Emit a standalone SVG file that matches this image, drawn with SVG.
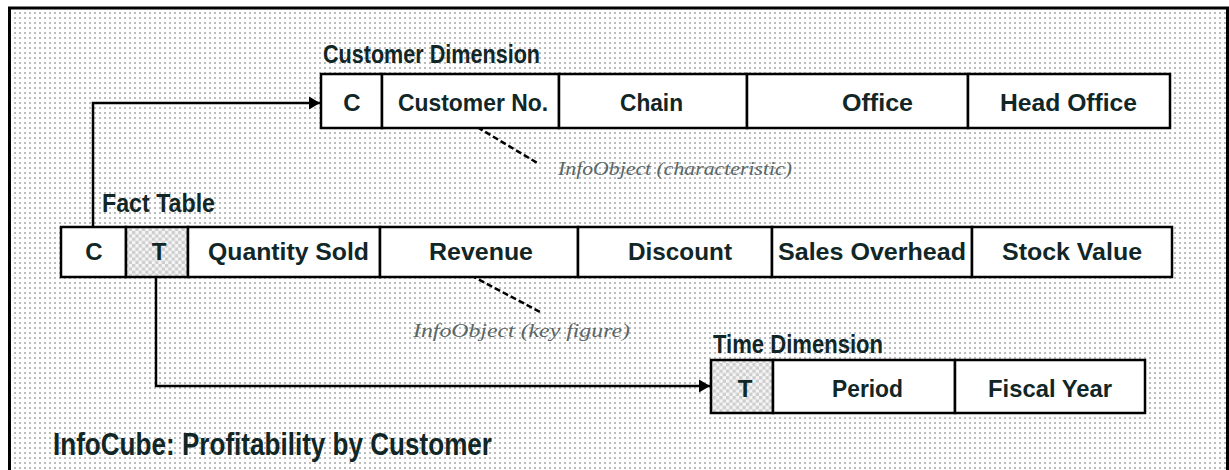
<svg xmlns="http://www.w3.org/2000/svg" width="1229" height="470" viewBox="0 0 1229 470">
  <defs>
    <!-- dotted paper background -->
    <pattern id="dots" x="14" y="12" width="5" height="5" patternUnits="userSpaceOnUse">
      <rect width="5" height="5" fill="#ffffff"/>
      <rect x="0" y="0" width="2" height="2" fill="#bcbcbc"/>
    </pattern>
    <!-- checkered fill for the time key cells -->
    <pattern id="checker" x="0" y="0" width="6.6" height="6.6" patternUnits="userSpaceOnUse">
      <rect width="6.6" height="6.6" fill="#f6f6f6"/>
      <rect x="0" y="0" width="3.3" height="3.3" fill="#cdcdcd"/>
      <rect x="3.3" y="3.3" width="3.3" height="3.3" fill="#cdcdcd"/>
    </pattern>
    <marker id="head" markerUnits="userSpaceOnUse" markerWidth="12" markerHeight="14" refX="11" refY="7" orient="auto">
      <path d="M0,0.5 L11,7 L0,13.5 Z" fill="#000"/>
    </marker>
    <style>
      .cell { fill: #ffffff; stroke: #000; stroke-width: 2.5; }
      .key { fill: url(#checker); stroke: #000; stroke-width: 2.5; }
      .txt { font-family: "Liberation Sans", Arial, sans-serif; font-weight: bold; font-size: 24px; fill: #112626; }
      .title { font-family: "Liberation Sans Narrow", "Liberation Sans", Arial, sans-serif; font-weight: bold; font-size: 26px; fill: #112626; }
      .note { font-family: "Liberation Serif", "Times New Roman", serif; font-style: italic; font-size: 18px; fill: #5a6666; }
      .wire { fill: none; stroke: #000; stroke-width: 2.5; }
      .lead { fill: none; stroke: #000; stroke-width: 2.5; stroke-dasharray: 6 3; }
    </style>
  </defs>

  <!-- background and frame -->
  <rect x="0" y="0" width="1229" height="470" fill="#ffffff"/>
  <rect x="11" y="9" width="1215" height="461" fill="url(#dots)"/>
  <path d="M9.5,470 V8 H1227.5 V470" fill="none" stroke="#000" stroke-width="3"/>

  <!-- connectors -->
  <g id="connectors">
    <path class="wire" d="M93,227 V103 H320" marker-end="url(#head)"/>
    <path class="wire" d="M156,277 V386 H710" marker-end="url(#head)"/>
    <path class="lead" d="M462,118 L539,164"/>
    <path class="lead" d="M455,267 L542,313"/>
  </g>

  <!-- customer dimension table -->
  <g id="customer-dimension">
    <text class="title" x="323" y="63" textLength="217" lengthAdjust="spacingAndGlyphs">Customer Dimension</text>
    <rect class="cell" x="321" y="74" width="61" height="54"/>
    <rect class="cell" x="382" y="74" width="177" height="54"/>
    <rect class="cell" x="559" y="74" width="188" height="54"/>
    <rect class="cell" x="747" y="74" width="221" height="54"/>
    <rect class="cell" x="968" y="74" width="202" height="54"/>
    <text class="txt" x="352" y="111" text-anchor="middle">C</text>
    <text class="txt" x="398" y="111" textLength="150" lengthAdjust="spacingAndGlyphs">Customer No.</text>
    <text class="txt" x="620" y="111" textLength="63" lengthAdjust="spacingAndGlyphs">Chain</text>
    <text class="txt" x="842" y="111" textLength="71" lengthAdjust="spacingAndGlyphs">Office</text>
    <text class="txt" x="1000" y="111" textLength="137" lengthAdjust="spacingAndGlyphs">Head Office</text>
  </g>

  <!-- fact table -->
  <g id="fact-table">
    <text class="title" x="102" y="212" textLength="113" lengthAdjust="spacingAndGlyphs">Fact Table</text>
    <rect class="cell" x="61" y="227" width="65" height="50"/>
    <rect class="key" x="126" y="227" width="62" height="50"/>
    <rect class="cell" x="188" y="227" width="192" height="50"/>
    <rect class="cell" x="380" y="227" width="198" height="50"/>
    <rect class="cell" x="578" y="227" width="194" height="50"/>
    <rect class="cell" x="772" y="227" width="200" height="50"/>
    <rect class="cell" x="972" y="227" width="200" height="50"/>
    <text class="txt" x="94" y="260" text-anchor="middle">C</text>
    <text class="txt" x="159" y="260" text-anchor="middle">T</text>
    <text class="txt" x="208" y="260" textLength="161" lengthAdjust="spacingAndGlyphs">Quantity Sold</text>
    <text class="txt" x="429" y="260" textLength="104" lengthAdjust="spacingAndGlyphs">Revenue</text>
    <text class="txt" x="628" y="260" textLength="104" lengthAdjust="spacingAndGlyphs">Discount</text>
    <text class="txt" x="778" y="260" textLength="188" lengthAdjust="spacingAndGlyphs">Sales Overhead</text>
    <text class="txt" x="1002" y="260" textLength="140" lengthAdjust="spacingAndGlyphs">Stock Value</text>
  </g>

  <!-- time dimension table -->
  <g id="time-dimension">
    <text class="title" x="713" y="353" textLength="170" lengthAdjust="spacingAndGlyphs">Time Dimension</text>
    <rect class="key" x="711" y="360" width="62" height="53"/>
    <rect class="cell" x="773" y="360" width="182" height="53"/>
    <rect class="cell" x="955" y="360" width="190" height="53"/>
    <text class="txt" x="745" y="397" text-anchor="middle">T</text>
    <text class="txt" x="832" y="397" textLength="71" lengthAdjust="spacingAndGlyphs">Period</text>
    <text class="txt" x="988" y="397" textLength="124" lengthAdjust="spacingAndGlyphs">Fiscal Year</text>
  </g>

  <!-- annotations -->
  <g id="annotations">
    <text class="note" x="558" y="175" textLength="234" lengthAdjust="spacingAndGlyphs">InfoObject (characteristic)</text>
    <text class="note" x="413" y="337" textLength="217" lengthAdjust="spacingAndGlyphs">InfoObject (key figure)</text>
  </g>

  <!-- caption -->
  <g id="caption">
    <text class="title" x="53" y="455" font-size="31" style="font-size:31px" textLength="439" lengthAdjust="spacingAndGlyphs">InfoCube: Profitability by Customer</text>
  </g>
</svg>
